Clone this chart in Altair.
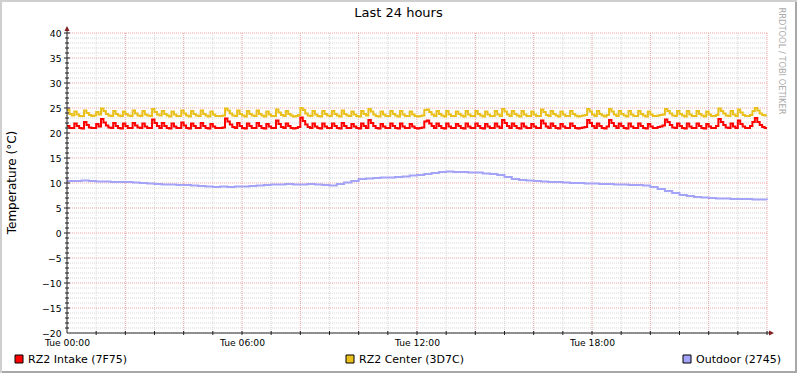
import altair as alt
import pandas as pd

# ---------------- texts ----------------
title_text = "Last 24 hours"
y_title = "Temperature (°C)"
watermark = "RRDTOOL / TOBI OETIKER"
series_names = ["RZ2 Intake (7F75)", "RZ2 Center (3D7C)", "Outdoor (2745)"]
series_colors = ["#FF0000", "#EAC11C", "#A3A3F8"]

# ---------------- data (hours 0..24) ----------------
# 5-minute samples
intake = [
    21.4, 21.0, 21.0, 21.9, 21.4, 21.0, 20.9, 22.2, 21.6, 21.1, 21.0, 21.0, 21.8, 21.3, 22.8, 22.1, 21.5, 21.1, 21.0, 22.0, 21.4, 21.0, 20.9, 21.9,
    21.4, 21.0, 21.0, 22.0, 21.5, 21.1, 21.0, 21.9, 21.3, 21.0, 21.0, 22.7, 22.0, 21.4, 21.0, 22.0, 21.4, 21.0, 20.9, 21.9, 21.3, 21.0, 21.0, 22.1,
    21.5, 21.0, 20.9, 21.9, 21.4, 21.0, 21.0, 22.0, 21.4, 21.0, 20.9, 21.8, 21.3, 21.0, 21.0, 21.0, 21.1, 22.9, 22.3, 21.7, 21.2, 21.0, 22.0, 21.4,
    21.0, 20.9, 21.9, 21.4, 21.0, 21.0, 22.0, 21.4, 21.0, 20.9, 21.8, 21.3, 21.0, 21.0, 22.5, 21.8, 21.2, 21.0, 21.9, 21.4, 21.0, 20.9, 21.0, 21.2,
    23.1, 22.4, 21.7, 21.2, 21.0, 21.9, 21.3, 21.0, 20.9, 21.9, 21.3, 21.0, 21.0, 21.9, 21.4, 21.0, 20.9, 22.0, 21.4, 21.0, 21.0, 21.8, 21.3, 21.0,
    20.9, 21.9, 21.4, 21.0, 22.6, 22.0, 21.4, 21.0, 20.9, 21.8, 21.3, 21.0, 21.0, 21.9, 21.4, 21.0, 20.9, 21.9, 21.3, 21.0, 21.0, 21.8, 21.3, 21.0,
    20.9, 21.0, 21.1, 22.3, 22.5, 21.9, 21.4, 21.0, 21.9, 21.4, 21.0, 20.9, 21.9, 21.3, 21.0, 21.0, 21.8, 21.4, 21.0, 20.9, 21.9, 21.3, 21.0, 21.0,
    21.9, 21.4, 21.0, 20.9, 21.8, 21.3, 21.0, 21.0, 21.9, 21.3, 21.0, 22.6, 22.0, 21.4, 21.0, 21.9, 21.4, 21.0, 20.9, 21.9, 21.3, 21.0, 21.0, 21.8,
    21.3, 21.0, 21.0, 22.5, 21.9, 21.3, 21.0, 21.9, 21.4, 21.0, 20.9, 21.8, 21.3, 21.0, 21.0, 21.9, 21.4, 21.0, 20.9, 21.0, 21.1, 21.2, 22.6, 22.0,
    21.4, 21.0, 21.9, 21.4, 21.0, 20.9, 21.3, 22.6, 22.0, 21.4, 21.0, 21.9, 21.4, 21.0, 20.9, 21.9, 21.3, 21.0, 21.0, 21.9, 21.4, 21.0, 20.9, 21.8,
    21.3, 21.0, 21.0, 21.2, 21.3, 21.5, 22.7, 22.2, 21.6, 21.1, 21.0, 21.9, 21.4, 21.0, 20.9, 21.9, 21.3, 21.0, 21.0, 21.9, 21.4, 21.0, 20.9, 21.8,
    21.3, 21.0, 21.0, 21.4, 22.8, 22.2, 21.6, 21.1, 21.0, 21.9, 21.3, 21.0, 22.5, 21.8, 21.3, 21.0, 21.0, 21.4, 22.2, 23.0, 22.2, 21.6, 21.2, 21.0,
    21.0,
]
center = [
    24.6, 23.8, 23.5, 24.3, 23.7, 23.4, 23.4, 24.5, 24.0, 23.6, 23.4, 23.5, 24.2, 23.7, 24.9, 24.4, 23.8, 23.5, 23.4, 24.4, 23.8, 23.5, 23.4, 24.3,
    23.8, 23.5, 23.4, 24.5, 23.9, 23.5, 23.4, 24.4, 23.7, 23.5, 23.4, 24.8, 24.2, 23.7, 23.5, 24.4, 23.8, 23.5, 23.3, 24.3, 23.7, 23.4, 23.4, 24.5,
    23.9, 23.5, 23.3, 24.4, 23.8, 23.5, 23.4, 24.5, 23.8, 23.5, 23.3, 24.3, 23.7, 23.4, 23.4, 23.4, 23.5, 24.9, 24.5, 23.9, 23.5, 23.4, 24.5, 23.8,
    23.5, 23.3, 24.4, 23.8, 23.5, 23.4, 24.5, 23.8, 23.5, 23.3, 24.3, 23.7, 23.4, 23.4, 24.7, 24.1, 23.6, 23.4, 24.4, 23.8, 23.5, 23.3, 23.4, 23.6,
    25.0, 24.6, 23.9, 23.5, 23.4, 24.4, 23.7, 23.4, 23.3, 24.4, 23.8, 23.5, 23.4, 24.4, 23.8, 23.5, 23.3, 24.5, 23.8, 23.5, 23.4, 24.3, 23.7, 23.4,
    23.3, 24.4, 23.8, 23.5, 24.8, 24.3, 23.7, 23.4, 23.3, 24.3, 23.7, 23.4, 23.4, 24.4, 23.8, 23.5, 23.3, 24.4, 23.7, 23.4, 23.4, 24.3, 23.7, 23.4,
    23.3, 23.4, 23.5, 24.6, 24.7, 24.2, 23.7, 23.4, 24.4, 23.8, 23.5, 23.3, 24.4, 23.7, 23.4, 23.4, 24.3, 23.8, 23.5, 23.3, 24.4, 23.7, 23.4, 23.4,
    24.4, 23.8, 23.5, 23.3, 24.3, 23.7, 23.4, 23.4, 24.4, 23.7, 23.4, 24.8, 24.3, 23.7, 23.4, 24.4, 23.8, 23.5, 23.3, 24.4, 23.7, 23.4, 23.4, 24.3,
    23.7, 23.4, 23.4, 24.7, 24.2, 23.6, 23.4, 24.4, 23.8, 23.5, 23.3, 24.3, 23.7, 23.4, 23.4, 24.4, 23.8, 23.5, 23.3, 23.4, 23.5, 23.6, 24.8, 24.3,
    23.7, 23.4, 24.4, 23.8, 23.5, 23.3, 23.6, 24.8, 24.3, 23.7, 23.4, 24.4, 23.8, 23.5, 23.3, 24.4, 23.7, 23.4, 23.4, 24.4, 23.8, 23.5, 23.3, 24.3,
    23.7, 23.4, 23.4, 23.5, 23.6, 23.7, 24.8, 24.4, 23.9, 23.5, 23.4, 24.4, 23.8, 23.5, 23.3, 24.4, 23.7, 23.4, 23.4, 24.4, 23.8, 23.5, 23.3, 24.3,
    23.7, 23.4, 23.4, 23.6, 24.9, 24.4, 23.9, 23.5, 23.4, 24.4, 23.7, 23.4, 24.7, 24.1, 23.6, 23.4, 23.4, 23.6, 24.4, 25.0, 24.5, 23.9, 23.6, 23.5,
    23.5,
]
# 15-minute samples
outdoor = [
    10.4, 10.4, 10.5, 10.4, 10.3, 10.3, 10.2, 10.2, 10.2, 10.1, 10.0, 9.9, 9.8, 9.7, 9.7, 9.6,
    9.6, 9.5, 9.4, 9.3, 9.2, 9.3, 9.2, 9.3, 9.3, 9.4, 9.5, 9.6, 9.7, 9.7, 9.8, 9.7,
    9.7, 9.8, 9.7, 9.6, 9.5, 9.8, 10.1, 10.4, 10.8, 10.9, 11.0, 11.1, 11.1, 11.2, 11.3, 11.5,
    11.6, 11.8, 12.0, 12.2, 12.3, 12.2, 12.2, 12.1, 12.1, 11.9, 11.8, 11.6, 11.2, 10.8, 10.6, 10.5,
    10.4, 10.3, 10.2, 10.2, 10.1, 10.0, 10.0, 9.9, 9.9, 9.8, 9.8, 9.7, 9.7, 9.6, 9.6, 9.5,
    9.2, 8.8, 8.4, 8.0, 7.6, 7.4, 7.2, 7.1, 7.0, 6.9, 6.9, 6.8, 6.8, 6.8, 6.7, 6.7, 6.6,
]

x_label_hours = [0, 6, 12, 18]
x_labels = ["Tue 00:00", "Tue 06:00", "Tue 12:00", "Tue 18:00"]
y_ticks = [-20, -15, -10, -5, 0, 5, 10, 15, 20, 25, 30, 35, 40]
x_minor_hours = list(range(1, 25))
x_major_hours = [2, 4, 6, 8, 10, 12, 14, 16, 18, 20, 22, 24]
y_minor_vals = [v for v in range(-19, 41) if v % 5 != 0]
y_major_vals = [v for v in y_ticks if v != -20]

# ---------------- build tables ----------------
rows = []
for name, vals in zip(series_names, [intake, center, outdoor]):
    n = len(vals)
    for i, v in enumerate(vals):
        rows.append({"hour": i * 24.0 / (n - 1), "temp": v, "series": name})
df = pd.DataFrame(rows)

FONT = "DejaVu Sans"
AXIS_COL = "#1F1F1F"
ARROW_COL = "#801F1F"
MINOR_COL = "#D6D6D6"
MAJOR_COL = "#E9A3A3"

xscale = alt.Scale(domain=[0, 24], nice=False, zero=False)
yscale = alt.Scale(domain=[-20, 40], nice=False, zero=False)

label_expr = " : ".join(
    f"datum.value == {h} ? '{t}'" for h, t in zip(x_label_hours, x_labels)
) + " : ''"

X_AX = alt.Axis(
    values=x_label_hours, labelExpr=label_expr, title=None, grid=False, domain=False,
    ticks=False, labelFont=FONT, labelFontSize=9.2, labelColor="#000000",
    labelPadding=5, labelFlush=False, labelOverlap=False, labelBound=False)
Y_AX = alt.Axis(
    values=y_ticks, title=None, grid=False, domain=False, ticks=False,
    labelFont=FONT, labelFontSize=9.2, labelColor="#000000", labelPadding=6)


def X(field):
    return alt.X(field, scale=xscale, axis=X_AX)


def Y(field):
    return alt.Y(field, scale=yscale, axis=Y_AX)


# grid
g_minor_h = alt.Chart(pd.DataFrame({"v": y_minor_vals})).mark_rule(
    stroke=MINOR_COL, strokeWidth=1, strokeDash=[1, 1]).encode(y=Y("v:Q"))
g_minor_v = alt.Chart(pd.DataFrame({"h": [h for h in x_minor_hours if h not in x_major_hours]})).mark_rule(
    stroke=MINOR_COL, strokeWidth=1, strokeDash=[1, 1]).encode(x=X("h:Q"))
g_major_h = alt.Chart(pd.DataFrame({"v": y_major_vals})).mark_rule(
    stroke=MAJOR_COL, strokeWidth=1, strokeDash=[1, 1]).encode(y=Y("v:Q"))
g_major_v = alt.Chart(pd.DataFrame({"h": x_major_hours})).mark_rule(
    stroke=MAJOR_COL, strokeWidth=1, strokeDash=[1, 1]).encode(x=X("h:Q"))

# axis ticks
t_y_minor = alt.Chart(pd.DataFrame({"v": y_minor_vals})).mark_rule(stroke=AXIS_COL, strokeWidth=1).encode(
    y=Y("v:Q"), x=alt.value(-2), x2=alt.value(2))
t_y_major = alt.Chart(pd.DataFrame({"v": y_major_vals})).mark_rule(stroke=AXIS_COL, strokeWidth=1).encode(
    y=Y("v:Q"), x=alt.value(-3), x2=alt.value(3))
t_x_minor = alt.Chart(pd.DataFrame({"h": x_minor_hours})).mark_rule(stroke=AXIS_COL, strokeWidth=1).encode(
    x=X("h:Q"), y=alt.value(298), y2=alt.value(302))

# data lines
lines = alt.Chart(df).mark_line(interpolate="step-after", strokeWidth=2).encode(
    x=X("hour:Q"),
    y=Y("temp:Q"),
    color=alt.Color("series:N", scale=alt.Scale(domain=series_names, range=series_colors), legend=None),
    detail="series:N",
)

one = pd.DataFrame({"k": [0]})

# axis lines and arrows
ax_y = alt.Chart(one).mark_rule(stroke=AXIS_COL, strokeWidth=1).encode(
    x=alt.value(0), y=alt.value(-2), y2=alt.value(300))
ax_x = alt.Chart(one).mark_rule(stroke=AXIS_COL, strokeWidth=1).encode(
    x=alt.value(0), x2=alt.value(703), y=alt.value(300))
arr_y = alt.Chart(one).mark_point(shape="M0,-1L1,1L-1,1Z", filled=True, size=25, color=ARROW_COL, opacity=1).encode(
    x=alt.value(0), y=alt.value(-4.5))
arr_x = alt.Chart(one).mark_point(shape="M1,0L-1,-1L-1,1Z", filled=True, size=25, color=ARROW_COL, opacity=1).encode(
    x=alt.value(704.5), y=alt.value(300))

# frame (3D shade)
frame_a1 = alt.Chart(one).mark_rule(stroke="#CFCFCF", strokeWidth=2).encode(
    x=alt.value(-67), x2=alt.value(730), y=alt.value(-32))
frame_a2 = alt.Chart(one).mark_rule(stroke="#CFCFCF", strokeWidth=2).encode(
    x=alt.value(-66), y=alt.value(-33), y2=alt.value(340))
frame_b1 = alt.Chart(one).mark_rule(stroke="#A8A8A8", strokeWidth=2).encode(
    x=alt.value(-65), x2=alt.value(730), y=alt.value(339))
frame_b2 = alt.Chart(one).mark_rule(stroke="#A8A8A8", strokeWidth=2).encode(
    x=alt.value(729), y=alt.value(-31), y2=alt.value(340))

# texts
title = alt.Chart(pd.DataFrame({"t": [title_text]})).mark_text(
    font=FONT, fontSize=13, color="#000000", align="center", baseline="middle").encode(
    text="t:N", x=alt.value(331.5), y=alt.value(-20))
ytitle = alt.Chart(pd.DataFrame({"t": [y_title]})).mark_text(
    font=FONT, fontSize=12, color="#000000", align="center", baseline="middle", angle=270).encode(
    text="t:N", x=alt.value(-55), y=alt.value(149.5))
wm = alt.Chart(pd.DataFrame({"t": [watermark]})).mark_text(
    font=FONT, fontSize=8.3, color="#AAAAAA", align="center", baseline="middle", angle=90).encode(
    text="t:N", x=alt.value(714), y=alt.value(28))

legend_layers = []
sw_x = [-52, 279, 616]
for name, col, sx in zip(series_names, series_colors, sw_x):
    d = pd.DataFrame({"t": [name]})
    legend_layers.append(alt.Chart(d).mark_rect(fill=col, stroke="#000000", strokeWidth=1).encode(
        x=alt.value(sx), x2=alt.value(sx + 8), y=alt.value(322), y2=alt.value(330)))
    legend_layers.append(alt.Chart(d).mark_text(
        font=FONT, fontSize=11, color="#000000", align="left", baseline="middle").encode(
        text="t:N", x=alt.value(sx + 13), y=alt.value(326.5)))

chart = alt.layer(
    g_minor_h, g_minor_v, g_major_h, g_major_v,
    lines,
    t_y_minor, t_y_major, t_x_minor,
    ax_y, ax_x, arr_y, arr_x,
    frame_a1, frame_a2, frame_b1, frame_b2,
    title, ytitle, wm, *legend_layers,
).properties(
    width=700, height=300,
    padding={"left": 67, "top": 33, "right": 30, "bottom": 40},
    autosize=alt.AutoSizeParams(type="none"),
    background="#FFFFFF",
).configure_view(stroke=None)

chart.save("out.html", embed_options={"renderer": "svg", "actions": False})
